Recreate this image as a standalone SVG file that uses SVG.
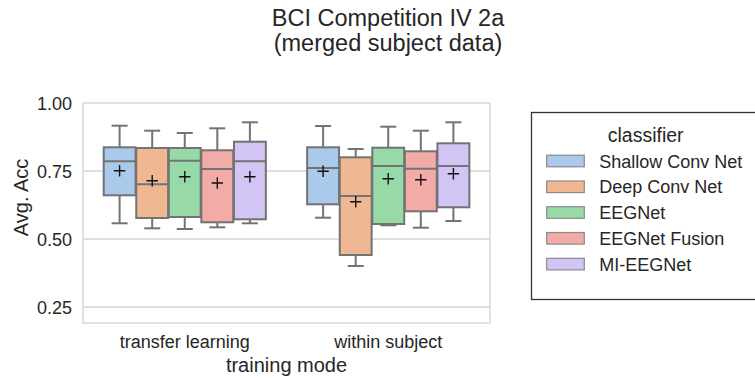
<svg xmlns="http://www.w3.org/2000/svg" width="755" height="378" viewBox="0 0 755 378">
  <style>
    text { font-family: "Liberation Sans", Arial, sans-serif; fill: #262626; }
    .title { font-size: 23.5px; text-anchor: middle; }
    .tick { font-size: 18px; }
    .ytick { text-anchor: end; }
    .xtick { text-anchor: middle; }
    .label { font-size: 20px; text-anchor: middle; }
    .grid { stroke: #d6d6d6; stroke-width: 1.4; }
    .spine { fill: none; stroke: #d6d6d6; stroke-width: 1.4; }
    .box rect { stroke: #737373; stroke-width: 2; }
    .box line { stroke: #737373; stroke-width: 2; }
    .box .mean { stroke: #111111; stroke-width: 1.4; fill: none; }
    .c0 { fill: #abc9ea; }
    .c1 { fill: #efb792; }
    .c2 { fill: #98daa7; }
    .c3 { fill: #f3aba8; }
    .c4 { fill: #d3c4f6; }
    .legend-frame { fill: #ffffff; stroke: #333333; stroke-width: 1.3; }
    .patch { stroke: #8a8a8a; stroke-width: 1.2; }
    .leg { font-size: 18px; }
    .leg-title { font-size: 19.5px; text-anchor: middle; }
  </style>

  <rect width="755" height="378" fill="#ffffff"/>

  <!-- title -->
  <text class="title" x="388" y="26">BCI Competition IV 2a</text>
  <text class="title" x="388" y="51">(merged subject data)</text>

  <!-- axes: grid, frame, ticks -->
  <g id="axes">
    <line class="grid" x1="83" y1="171" x2="490" y2="171"/>
    <line class="grid" x1="83" y1="239" x2="490" y2="239"/>
    <line class="grid" x1="83" y1="307" x2="490" y2="307"/>
    <rect class="spine" x="83" y="103" width="407" height="220"/>
    <text class="tick ytick" x="72" y="109.5">1.00</text>
    <text class="tick ytick" x="72" y="177.5">0.75</text>
    <text class="tick ytick" x="72" y="245.5">0.50</text>
    <text class="tick ytick" x="72" y="313.5">0.25</text>
    <text class="tick xtick" x="184.75" y="348">transfer learning</text>
    <text class="tick xtick" x="388.25" y="348">within subject</text>
    <text class="label" x="286.5" y="372">training mode</text>
    <text class="label" transform="rotate(-90 28 197.5)" x="28" y="197.5">Avg. Acc</text>
  </g>

  <defs>
    <path id="plus" d="M-5.7 0H5.7M0 -5.7V5.7"/>
  </defs>

  <!-- transfer learning -->
  <g id="tl-shallow" class="box">
    <line x1="119.6" y1="125.7" x2="119.6" y2="147.3"/>
    <line x1="119.6" y1="195.3" x2="119.6" y2="223.3"/>
    <line x1="111.6" y1="125.7" x2="127.6" y2="125.7"/>
    <line x1="111.6" y1="223.3" x2="127.6" y2="223.3"/>
    <rect class="c0" x="103.7" y="147.3" width="31.9" height="48"/>
    <line x1="103.7" y1="161.3" x2="135.6" y2="161.3"/>
    <use class="mean" href="#plus" x="119.6" y="170.7"/>
  </g>
  <g id="tl-deep" class="box">
    <line x1="152.2" y1="130.7" x2="152.2" y2="148"/>
    <line x1="152.2" y1="218" x2="152.2" y2="228.3"/>
    <line x1="144.2" y1="130.7" x2="160.2" y2="130.7"/>
    <line x1="144.2" y1="228.3" x2="160.2" y2="228.3"/>
    <rect class="c1" x="136.25" y="148" width="31.9" height="70"/>
    <line x1="136.25" y1="184.3" x2="168.15" y2="184.3"/>
    <use class="mean" href="#plus" x="152.2" y="180.7"/>
  </g>
  <g id="tl-eegnet" class="box">
    <line x1="184.75" y1="133" x2="184.75" y2="148"/>
    <line x1="184.75" y1="217" x2="184.75" y2="229"/>
    <line x1="176.75" y1="133" x2="192.75" y2="133"/>
    <line x1="176.75" y1="229" x2="192.75" y2="229"/>
    <rect class="c2" x="168.8" y="148" width="31.9" height="69"/>
    <line x1="168.8" y1="160.7" x2="200.7" y2="160.7"/>
    <use class="mean" href="#plus" x="184.75" y="176.7"/>
  </g>
  <g id="tl-fusion" class="box">
    <line x1="217.3" y1="128.3" x2="217.3" y2="150.3"/>
    <line x1="217.3" y1="222.3" x2="217.3" y2="227.3"/>
    <line x1="209.3" y1="128.3" x2="225.3" y2="128.3"/>
    <line x1="209.3" y1="227.3" x2="225.3" y2="227.3"/>
    <rect class="c3" x="201.35" y="150.3" width="31.9" height="72"/>
    <line x1="201.35" y1="169" x2="233.25" y2="169"/>
    <use class="mean" href="#plus" x="217.3" y="183"/>
  </g>
  <g id="tl-mieegnet" class="box">
    <line x1="249.9" y1="122.3" x2="249.9" y2="141.7"/>
    <line x1="249.9" y1="219.3" x2="249.9" y2="223.3"/>
    <line x1="241.9" y1="122.3" x2="257.9" y2="122.3"/>
    <line x1="241.9" y1="223.3" x2="257.9" y2="223.3"/>
    <rect class="c4" x="233.95" y="141.7" width="31.9" height="77.6"/>
    <line x1="233.95" y1="161.3" x2="265.85" y2="161.3"/>
    <use class="mean" href="#plus" x="249.9" y="176.7"/>
  </g>

  <!-- within subject -->
  <g id="ws-shallow" class="box">
    <line x1="323.1" y1="126" x2="323.1" y2="147.3"/>
    <line x1="323.1" y1="204.3" x2="323.1" y2="217.7"/>
    <line x1="315.1" y1="126" x2="331.1" y2="126"/>
    <line x1="315.1" y1="217.7" x2="331.1" y2="217.7"/>
    <rect class="c0" x="307.15" y="147.3" width="31.9" height="57"/>
    <line x1="307.15" y1="168" x2="339.05" y2="168"/>
    <use class="mean" href="#plus" x="323.1" y="171.3"/>
  </g>
  <g id="ws-deep" class="box">
    <line x1="355.7" y1="149" x2="355.7" y2="157.3"/>
    <line x1="355.7" y1="255" x2="355.7" y2="266"/>
    <line x1="347.7" y1="149" x2="363.7" y2="149"/>
    <line x1="347.7" y1="266" x2="363.7" y2="266"/>
    <rect class="c1" x="339.75" y="157.3" width="31.9" height="97.7"/>
    <line x1="339.75" y1="196" x2="371.65" y2="196"/>
    <use class="mean" href="#plus" x="355.7" y="201.7"/>
  </g>
  <g id="ws-eegnet" class="box">
    <line x1="388.25" y1="126.7" x2="388.25" y2="147.7"/>
    <line x1="388.25" y1="224" x2="388.25" y2="225.3"/>
    <line x1="380.25" y1="126.7" x2="396.25" y2="126.7"/>
    <line x1="380.25" y1="225.3" x2="396.25" y2="225.3"/>
    <rect class="c2" x="372.3" y="147.7" width="31.9" height="76.3"/>
    <line x1="372.3" y1="166" x2="404.2" y2="166"/>
    <use class="mean" href="#plus" x="388.25" y="178.7"/>
  </g>
  <g id="ws-fusion" class="box">
    <line x1="420.8" y1="130.7" x2="420.8" y2="151.3"/>
    <line x1="420.8" y1="211.3" x2="420.8" y2="227.7"/>
    <line x1="412.8" y1="130.7" x2="428.8" y2="130.7"/>
    <line x1="412.8" y1="227.7" x2="428.8" y2="227.7"/>
    <rect class="c3" x="404.85" y="151.3" width="31.9" height="60"/>
    <line x1="404.85" y1="168.7" x2="436.75" y2="168.7"/>
    <use class="mean" href="#plus" x="420.8" y="179.7"/>
  </g>
  <g id="ws-mieegnet" class="box">
    <line x1="453.4" y1="122.3" x2="453.4" y2="143.3"/>
    <line x1="453.4" y1="207.3" x2="453.4" y2="221"/>
    <line x1="445.4" y1="122.3" x2="461.4" y2="122.3"/>
    <line x1="445.4" y1="221" x2="461.4" y2="221"/>
    <rect class="c4" x="437.45" y="143.3" width="31.9" height="64"/>
    <line x1="437.45" y1="166" x2="469.35" y2="166"/>
    <use class="mean" href="#plus" x="453.4" y="173.7"/>
  </g>

  <g id="connectors"/>

  <!-- legend -->
  <g id="legend">
    <rect class="legend-frame" x="531.5" y="112.5" width="232" height="187"/>
    <text class="leg-title" x="645.7" y="141.7">classifier</text>
    <rect class="patch c0" x="546.7" y="155.2" width="37.6" height="11.6"/>
    <rect class="patch c1" x="546.7" y="181" width="37.6" height="11.6"/>
    <rect class="patch c2" x="546.7" y="206.7" width="37.6" height="11.6"/>
    <rect class="patch c3" x="546.7" y="232.5" width="37.6" height="11.6"/>
    <rect class="patch c4" x="546.7" y="258.3" width="37.6" height="11.6"/>
    <text class="leg" x="599.3" y="167.5">Shallow Conv Net</text>
    <text class="leg" x="599.3" y="193.3">Deep Conv Net</text>
    <text class="leg" x="599.3" y="219">EEGNet</text>
    <text class="leg" x="599.3" y="244.8">EEGNet Fusion</text>
    <text class="leg" x="599.3" y="270.6">MI-EEGNet</text>
  </g>
</svg>
